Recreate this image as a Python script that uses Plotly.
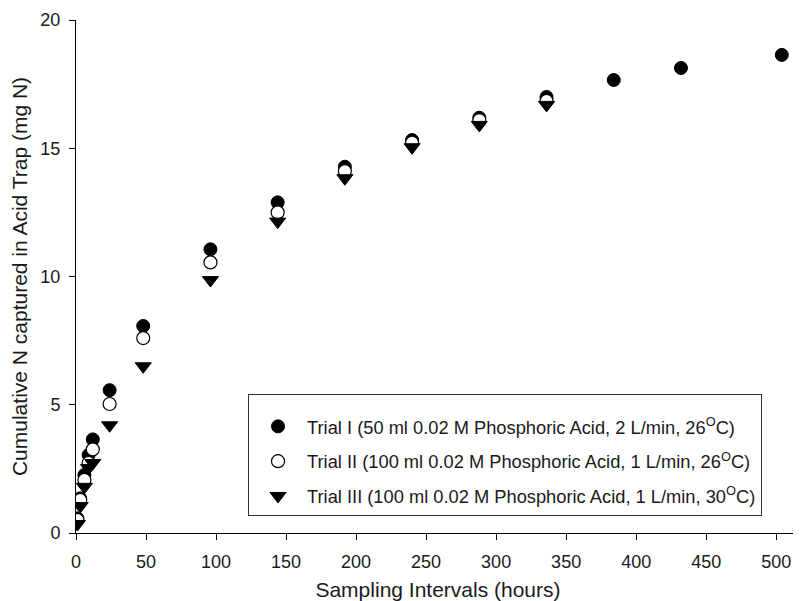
import plotly.graph_objects as go

hours_1 = [1, 3, 6, 9, 12, 24, 48, 96, 144, 192, 240, 288, 336, 384, 432, 504]
trial_1 = [0.57, 1.35, 2.26, 3.04, 3.65, 5.57, 8.07, 11.06, 12.89, 14.28, 15.32, 16.19, 17.0, 17.66, 18.13, 18.64]

hours_2 = [1, 3, 6, 9, 12, 24, 48, 96, 144, 192, 240, 288, 336]
trial_2 = [0.51, 1.29, 2.07, 2.73, 3.26, 5.03, 7.6, 10.55, 12.5, 14.11, 15.22, 16.1, 16.85]

hours_3 = [1, 3, 6, 9, 12, 24, 48, 96, 144, 192, 240, 288, 336]
trial_3 = [0.35, 1.05, 1.8, 2.53, 2.73, 4.2, 6.5, 9.86, 12.14, 13.83, 15.04, 15.91, 16.69]

names = [
    "Trial I (50 ml 0.02 M Phosphoric Acid, 2 L/min, 26<sup>O</sup>C)",
    "Trial II (100 ml 0.02 M Phosphoric Acid, 1 L/min, 26<sup>O</sup>C)",
    "Trial III (100 ml 0.02 M Phosphoric Acid, 1 L/min, 30<sup>O</sup>C)",
]

x_ticks = [0, 50, 100, 150, 200, 250, 300, 350, 400, 450, 500]
y_ticks = [0, 5, 10, 15, 20]

FONT = "Arial, Liberation Sans, sans-serif"
TXT = "#1a1a1a"

fig = go.Figure()
fig.add_trace(go.Scatter(x=hours_1, y=trial_1, mode="markers", name=names[0], legendgroup="a",
                         marker=dict(symbol="circle", size=13, color="black", line=dict(color="black", width=1))))
fig.add_trace(go.Scatter(x=hours_2, y=trial_2, mode="markers", name=names[1], legendgroup="b",
                         marker=dict(symbol="circle", size=13, color="white", line=dict(color="black", width=1.2))))
fig.add_trace(go.Scatter(x=hours_3, y=trial_3, mode="markers", name=names[2], legendgroup="c",
                         marker=dict(symbol="triangle-down", size=14, color="black", line=dict(color="black", width=1))))

axis_common = dict(showline=True, linecolor="black", linewidth=1, ticks="outside", ticklen=6,
                   tickcolor="black", showgrid=False, zeroline=False, mirror=False, automargin=False,
                   tickfont=dict(family=FONT, size=18, color=TXT))

# the page body adds an 8px offset, so the figure is sized to fit the 801x601 window
fig.update_layout(
    width=793, height=593,
    margin=dict(l=68, r=1, t=12, b=68),
    paper_bgcolor="white", plot_bgcolor="white",
    font=dict(family=FONT, size=18, color=TXT),
    xaxis=dict(range=[0, 517], tickvals=x_ticks, ticklabelstandoff=6,
               title=dict(text="Sampling Intervals (hours)", font=dict(family=FONT, size=21, color=TXT), standoff=16),
               **axis_common),
    yaxis=dict(range=[0, 20], tickvals=y_ticks, ticklabelstandoff=5,
               title=dict(text="Cumulative N captured in Acid Trap (mg N)", font=dict(family=FONT, size=21, color=TXT), standoff=9),
               **axis_common),
    legend=dict(x=0.2376, y=0.271, xanchor="left", yanchor="top",
                bordercolor="#333", borderwidth=1, bgcolor="white",
                font=dict(family=FONT, size=18.3, color=TXT),
                title=dict(text=" ", font=dict(size=10)),
                tracegroupgap=8, itemwidth=48),
    showlegend=True,
)

fig.write_html("out.html")
